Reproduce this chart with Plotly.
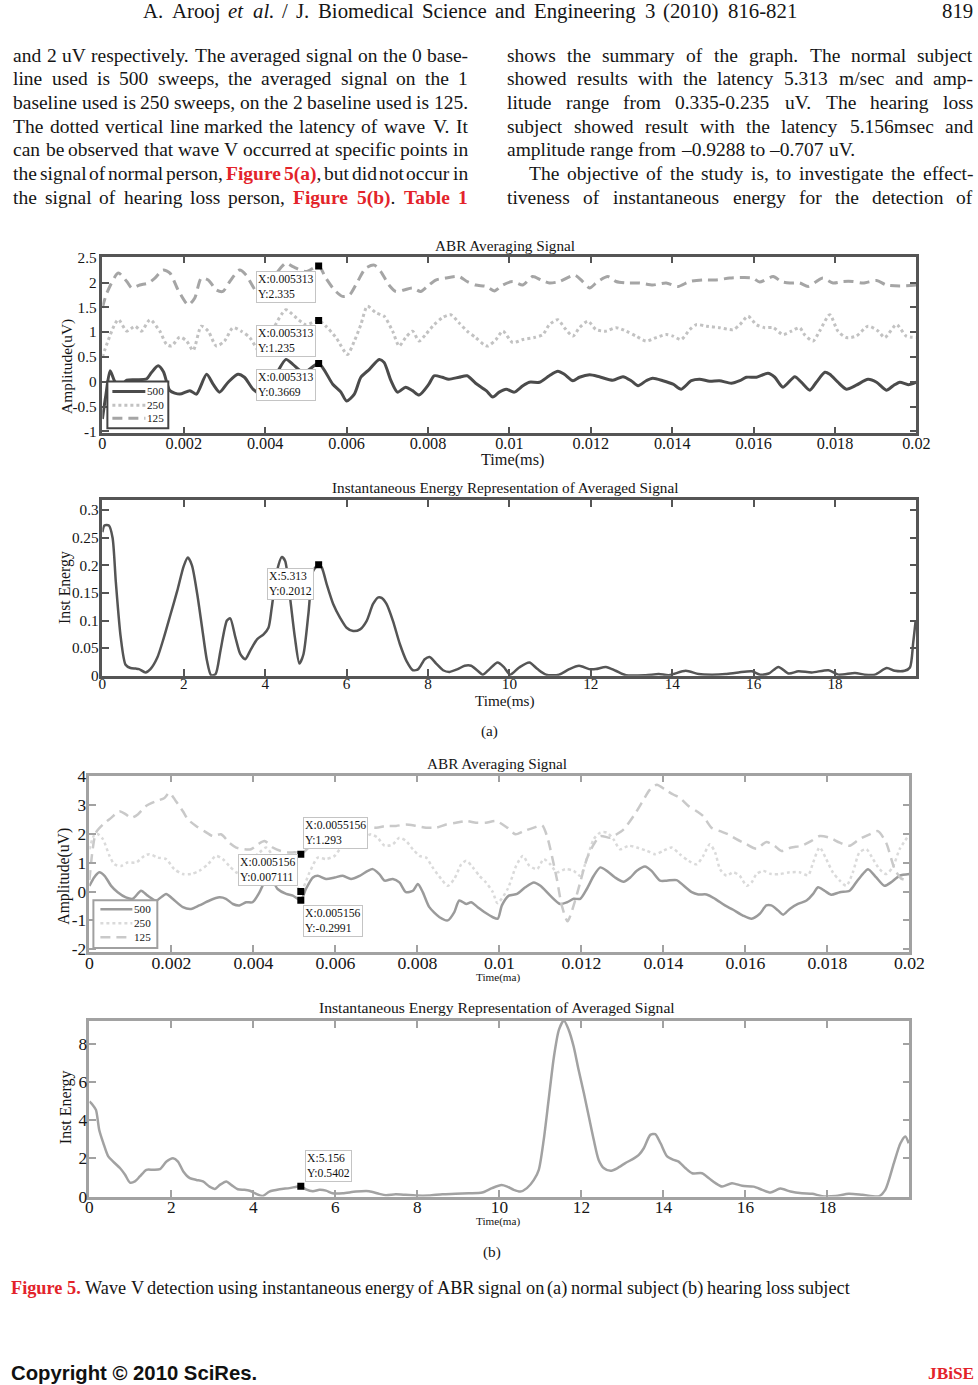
import plotly.graph_objects as go

# ---------------- data ----------------
series_names = ["500", "250", "125"]

# (a) normal subject, ABR averaging signal: (time [s], amplitude [uV])
a_500 = [(0, -0.75), (0.00008, -0.3), (0.00019, 0.22), (0.00031, 0.0), (0.00045, -0.08), (0.0006, 0.03),
         (0.00084, 0.04), (0.00109, 0.06), (0.0012, 0.18), (0.00137, 0.32), (0.0015, 0.2), (0.00166, -0.18),
         (0.0019, -0.25), (0.00215, -0.18), (0.00231, -0.25), (0.00256, 0.15), (0.00272, -0.05), (0.00288, -0.21),
         (0.00309, -0.01), (0.00333, 0.15), (0.00349, 0.09), (0.0037, -0.15), (0.0039, -0.25), (0.00407, -0.11),
         (0.00427, 0.15), (0.00451, 0.45), (0.00468, 0.35), (0.00495, 0.18), (0.005313, 0.3669), (0.00566, -0.05),
         (0.00586, -0.21), (0.006, -0.39), (0.00619, -0.25), (0.00635, 0.09), (0.00656, 0.25), (0.0068, 0.45),
         (0.00692, 0.39), (0.00709, 0.02), (0.00725, -0.21), (0.00745, -0.11), (0.00762, -0.18), (0.00778, -0.27),
         (0.00802, -0.05), (0.00815, 0.12), (0.00835, 0.09), (0.00851, 0.05), (0.00876, 0.09), (0.00896, 0.12),
         (0.00917, -0.03), (0.00943, -0.18), (0.00959, -0.31), (0.00975, -0.21), (0.00992, -0.15), (0.01012, -0.21),
         (0.01033, -0.08), (0.01049, -0.01), (0.01074, -0.01), (0.01098, 0.12), (0.01119, 0.21), (0.01135, 0.15),
         (0.01156, 0.02), (0.01172, 0.09), (0.01197, 0.14), (0.01221, 0.10), (0.01254, 0.03), (0.01279, 0.10),
         (0.01299, 0.02), (0.01316, -0.08), (0.01336, 0.02), (0.01352, 0.07), (0.01377, 0.02), (0.01402, -0.05),
         (0.01422, -0.15), (0.01447, 0.02), (0.01467, 0.05), (0.01492, 0.01), (0.01516, 0.02), (0.01545, -0.03),
         (0.01566, 0.02), (0.01582, 0.09), (0.01607, 0.09), (0.01635, 0.17), (0.01652, 0.09), (0.01672, -0.11),
         (0.01701, 0.10), (0.01717, -0.01), (0.01738, -0.17), (0.01754, -0.01), (0.01775, 0.19), (0.01787, 0.15),
         (0.01807, -0.01), (0.01828, -0.15), (0.01852, -0.07), (0.01881, 0.05), (0.01902, -0.01), (0.01926, -0.17),
         (0.01943, -0.08), (0.01959, -0.01), (0.0198, -0.06), (0.02, -0.01)]
a_250 = [(0, 0.5), (0.00039, 1.25), (0.0006, 1.02), (0.0008, 1.12), (0.00096, 1.02), (0.00117, 1.25), (0.00141, 1.02),
         (0.00158, 0.75), (0.0017, 0.72), (0.0019, 0.9), (0.00207, 0.82), (0.00223, 0.63), (0.00243, 1.12), (0.0026, 1.02),
         (0.0028, 0.72), (0.003, 0.82), (0.00321, 1.09), (0.00341, 1.02), (0.00362, 0.89), (0.00386, 0.59), (0.00398, 0.55),
         (0.00419, 1.05), (0.00451, 1.45), (0.00472, 1.32), (0.005, 1.15), (0.005313, 1.235), (0.00549, 1.12),
         (0.00574, 0.89), (0.00602, 0.55), (0.00619, 0.82), (0.00635, 1.15), (0.00651, 1.52), (0.00672, 1.39),
         (0.00692, 1.32), (0.00713, 1.02), (0.00729, 0.72), (0.00745, 0.89), (0.00762, 1.02), (0.00778, 0.82),
         (0.00794, 0.95), (0.00815, 1.15), (0.00835, 1.29), (0.00856, 1.35), (0.00876, 1.19), (0.00896, 1.02),
         (0.00917, 0.89), (0.00937, 0.75), (0.00947, 0.72), (0.00967, 0.85), (0.00984, 1.02), (0.01008, 0.79),
         (0.01033, 0.85), (0.01061, 0.89), (0.01082, 0.95), (0.01098, 1.15), (0.01119, 1.25), (0.01135, 1.09),
         (0.01156, 0.92), (0.01172, 1.09), (0.01193, 1.22), (0.01213, 1.05), (0.01238, 1.02), (0.01262, 1.09),
         (0.01287, 1.02), (0.01311, 0.92), (0.01336, 0.82), (0.01361, 0.89), (0.01385, 0.95), (0.01402, 0.92),
         (0.01422, 0.85), (0.01443, 1.05), (0.01459, 1.15), (0.01484, 1.12), (0.01516, 1.09), (0.01549, 1.05),
         (0.01566, 1.15), (0.01586, 1.32), (0.01607, 1.15), (0.01627, 1.09), (0.01648, 1.09), (0.01672, 0.95),
         (0.01693, 1.02), (0.01713, 1.09), (0.01725, 0.95), (0.01746, 0.82), (0.01762, 1.02), (0.01787, 1.35),
         (0.01807, 1.02), (0.01828, 0.89), (0.01852, 0.92), (0.01881, 1.12), (0.01906, 1.02), (0.01922, 0.89),
         (0.01951, 1.15), (0.01975, 0.92), (0.02, 0.89)]
a_125 = [(0, 1.49), (0.00011, 1.79), (0.00039, 2.19), (0.0006, 2.02), (0.00072, 1.89), (0.00092, 1.95), (0.00113, 1.99),
         (0.00129, 2.09), (0.00149, 2.25), (0.00166, 2.19), (0.00186, 1.85), (0.00211, 1.55), (0.00227, 1.69),
         (0.00243, 2.09), (0.0026, 2.05), (0.0028, 1.85), (0.00296, 1.82), (0.00313, 2.02), (0.00337, 2.25),
         (0.00353, 2.15), (0.00378, 1.82), (0.00394, 1.75), (0.0042, 2.1), (0.00451, 2.39), (0.00468, 2.32),
         (0.005, 2.22), (0.005313, 2.335), (0.00549, 2.09), (0.0057, 1.85), (0.0059, 1.72), (0.00607, 1.75),
         (0.00627, 2.02), (0.00647, 2.29), (0.00668, 2.35), (0.00684, 2.22), (0.00704, 1.95), (0.00721, 1.82),
         (0.00741, 1.85), (0.00762, 1.89), (0.00782, 1.82), (0.00798, 1.92), (0.00819, 2.05), (0.00843, 2.09),
         (0.00876, 2.12), (0.00896, 2.02), (0.00917, 1.95), (0.00943, 1.92), (0.00963, 1.83), (0.00984, 1.95),
         (0.01008, 2.02), (0.01033, 1.95), (0.01057, 2.12), (0.01078, 2.05), (0.01098, 1.99), (0.01123, 2.02),
         (0.0116, 2.15), (0.0118, 2.02), (0.01197, 1.89), (0.01217, 2.02), (0.01242, 2.12), (0.01262, 2.02),
         (0.01287, 1.99), (0.0132, 1.99), (0.01352, 1.95), (0.01385, 1.99), (0.01414, 1.92), (0.01443, 2.02),
         (0.01475, 2.05), (0.01508, 2.05), (0.01541, 2.09), (0.01574, 2.1), (0.01598, 2.09), (0.01615, 2.01),
         (0.01648, 2.12), (0.01668, 2.02), (0.01689, 1.99), (0.01713, 1.99), (0.01734, 1.92), (0.01754, 2.02),
         (0.0177, 2.09), (0.01795, 1.99), (0.0182, 2.02), (0.01844, 2.02), (0.01869, 1.99), (0.01902, 2.04),
         (0.01926, 1.95), (0.01959, 1.93), (0.02, 1.95)]

# (a) instantaneous energy: (time [ms], energy)
a_energy = [(0, 0.26), (0.05, 0.272), (0.16, 0.272), (0.25, 0.25), (0.33, 0.17), (0.45, 0.07), (0.57, 0.02),
            (0.69, 0.014), (0.82, 0.013), (0.9, 0.012), (1.06, 0.006), (1.18, 0.012), (1.35, 0.033), (1.51, 0.069),
            (1.67, 0.11), (1.84, 0.154), (2.0, 0.199), (2.1, 0.214), (2.2, 0.2), (2.33, 0.148), (2.45, 0.087),
            (2.57, 0.027), (2.67, 0.001), (2.78, 0.003), (2.9, 0.045), (3.06, 0.1), (3.14, 0.104), (3.27, 0.069),
            (3.39, 0.039), (3.51, 0.03), (3.63, 0.045), (3.8, 0.066), (3.96, 0.075), (4.08, 0.087), (4.16, 0.123),
            (4.29, 0.19), (4.41, 0.215), (4.49, 0.208), (4.61, 0.142), (4.73, 0.069), (4.84, 0.022), (4.94, 0.039),
            (5.06, 0.111), (5.18, 0.19), (5.313, 0.2012), (5.39, 0.196), (5.51, 0.166), (5.67, 0.13), (5.84, 0.105),
            (6.0, 0.087), (6.16, 0.081), (6.33, 0.084), (6.49, 0.099), (6.65, 0.13), (6.78, 0.142), (6.86, 0.141),
            (6.98, 0.13), (7.14, 0.099), (7.31, 0.057), (7.47, 0.027), (7.63, 0.01), (7.76, 0.012), (7.92, 0.03),
            (8.04, 0.034), (8.2, 0.022), (8.37, 0.01), (8.53, 0.007), (8.73, 0.012), (8.9, 0.018), (9.06, 0.018),
            (9.22, 0.009), (9.35, 0.002), (9.51, 0.012), (9.71, 0.024), (9.86, 0.016), (10.02, 0.002), (10.24, 0.015),
            (10.49, 0.024), (10.69, 0.012), (10.9, 0.002), (11.22, 0.002), (11.47, 0.012), (11.71, 0.018),
            (11.96, 0.012), (12.12, 0.012), (12.37, 0.016), (12.61, 0.009), (12.86, 0.001), (13.35, 0.001),
            (13.67, 0.003), (13.92, 0.001), (14.33, 0.009), (14.65, 0.003), (14.98, 0.002), (15.31, 0.003),
            (15.63, 0.006), (15.96, 0.008), (16.16, 0.002), (16.37, 0.004), (16.61, 0.016), (16.86, 0.004),
            (17.1, 0.008), (17.43, 0.006), (17.84, 0.01), (18.08, 0.002), (18.49, 0.005), (18.73, 0.002),
            (18.98, 0.002), (19.27, 0.014), (19.47, 0.009), (19.71, 0.009), (19.84, 0.015), (19.92, 0.06), (19.98, 0.1)]

# (b) hearing loss subject, ABR averaging signal
b_500 = [(0, 0.2), (0.00012, 0.5), (0.00024, 0.67), (0.00037, 0.55), (0.00053, 0.2), (0.00069, -0.02), (0.00089, -0.2),
         (0.00106, -0.25), (0.00126, 0.03), (0.00142, -0.14), (0.00163, -0.31), (0.00187, -0.08), (0.00203, -0.25),
         (0.00228, -0.54), (0.00248, -0.6), (0.00268, -0.48), (0.00293, -0.31), (0.00317, -0.2), (0.00333, -0.25),
         (0.0035, -0.43), (0.00366, -0.48), (0.00382, -0.37), (0.00398, -0.37), (0.00415, -0.02), (0.00427, 0.32),
         (0.00443, 0.44), (0.00459, 0.09), (0.0048, -0.08), (0.00496, -0.14), (0.005156, -0.2991), (0.00528, 0.09),
         (0.00545, 0.49), (0.00557, 0.55), (0.00577, 0.44), (0.00598, 0.49), (0.00618, 0.55), (0.00638, 0.44),
         (0.00659, 0.55), (0.00679, 0.72), (0.00691, 0.78), (0.00707, 0.61), (0.0072, 0.38), (0.0074, 0.44),
         (0.00756, 0.32), (0.00772, -0.02), (0.00789, 0.03), (0.00801, 0.26), (0.00813, -0.02), (0.00829, -0.54),
         (0.00854, -0.89), (0.00874, -1.0), (0.0089, -0.71), (0.00902, -0.31), (0.00919, -0.43), (0.00931, -0.37),
         (0.00947, -0.54), (0.00963, -0.71), (0.00984, -0.89), (0.00996, -0.94), (0.01006, -0.48), (0.01023, -0.14),
         (0.01043, -0.08), (0.01063, 0.15), (0.01084, 0.32), (0.011, 0.2), (0.01124, -0.14), (0.01148, -0.43),
         (0.01165, -0.37), (0.01181, -0.25), (0.01197, -0.25), (0.01213, 0.09), (0.0123, 0.55), (0.01246, 0.84),
         (0.01262, 0.72), (0.01282, 0.49), (0.01303, 0.34), (0.01319, 0.49), (0.01335, 0.72), (0.01355, 0.87),
         (0.01371, 0.72), (0.01392, 0.38), (0.01408, 0.38), (0.01432, 0.40), (0.01449, 0.21), (0.01469, -0.02),
         (0.01485, -0.1), (0.01505, -0.1), (0.01526, -0.25), (0.0155, -0.48), (0.0157, -0.63), (0.01594, -0.83),
         (0.01615, -0.94), (0.01635, -0.77), (0.01651, -0.48), (0.01663, -0.48), (0.0168, -0.66), (0.01692, -0.8),
         (0.01708, -0.6), (0.01728, -0.43), (0.01749, -0.31), (0.01765, -0.08), (0.01777, 0.15), (0.01793, 0.03),
         (0.01809, -0.11), (0.0183, -0.02), (0.01854, 0.03), (0.0187, 0.32), (0.01886, 0.61), (0.01899, 0.78),
         (0.01919, 0.49), (0.01939, 0.2), (0.01955, 0.32), (0.01976, 0.55), (0.02, 0.61)]
b_250 = [(0, 1.47), (0.00012, 1.97), (0.0002, 2.0), (0.00033, 1.82), (0.00049, 1.24), (0.00061, 0.95), (0.00077, 0.89),
         (0.00093, 1.01), (0.00114, 1.01), (0.00134, 1.24), (0.00146, 1.3), (0.00167, 1.18), (0.00187, 1.13),
         (0.00207, 0.78), (0.00228, 0.61), (0.00248, 0.61), (0.00268, 0.72), (0.00289, 0.95), (0.00309, 1.24),
         (0.00325, 1.13), (0.00341, 0.89), (0.00358, 0.67), (0.00374, 0.61), (0.00398, 1.13), (0.00415, 1.36),
         (0.00431, 1.53), (0.00447, 1.24), (0.00463, 0.78), (0.0048, 0.67), (0.00496, 0.49), (0.005156, 0.0071),
         (0.00537, 0.67), (0.00557, 1.18), (0.00577, 1.13), (0.00598, 1.24), (0.00614, 1.53), (0.0063, 1.64),
         (0.00646, 1.76), (0.00667, 1.87), (0.00687, 1.99), (0.00703, 1.87), (0.0072, 1.59), (0.0074, 1.64),
         (0.00756, 1.87), (0.00772, 1.76), (0.00789, 1.47), (0.00805, 1.24), (0.00821, 1.18), (0.00837, 0.84),
         (0.00858, 0.44), (0.00874, 0.2), (0.0089, 0.44), (0.00907, 0.95), (0.00919, 1.07), (0.00935, 0.84),
         (0.00951, 0.55), (0.00967, 0.32), (0.00984, -0.02), (0.00995, -0.4), (0.0102, 0.09), (0.01041, 0.9),
         (0.01057, 1.24), (0.01073, 0.9), (0.01092, 0.78), (0.01108, 1.13), (0.01124, 0.95), (0.0114, 0.67),
         (0.01161, 0.78), (0.01181, 0.72), (0.01197, 0.55), (0.01213, 1.13), (0.0123, 1.82), (0.01246, 2.05),
         (0.01262, 2.05), (0.01278, 1.82), (0.01294, 1.47), (0.01315, 1.59), (0.01335, 1.53), (0.01359, 1.42),
         (0.0138, 1.3), (0.014, 1.42), (0.0142, 1.53), (0.0144, 1.3), (0.01461, 1.07), (0.01481, 0.95), (0.01497, 1.24),
         (0.01513, 1.64), (0.01526, 1.36), (0.01538, 0.78), (0.01554, 0.55), (0.0157, 0.67), (0.01586, 0.55),
         (0.01603, 0.2), (0.01615, 0.32), (0.01627, 0.61), (0.01643, 0.72), (0.01663, 0.61), (0.01684, 0.61),
         (0.01708, 0.67), (0.01732, 0.67), (0.01753, 0.57), (0.01765, 1.01), (0.01781, 1.53), (0.01797, 1.13),
         (0.01813, 0.67), (0.0183, 0.38), (0.01846, 0.2), (0.01862, 0.67), (0.01878, 1.36), (0.01895, 1.47),
         (0.01911, 1.13), (0.01927, 0.78), (0.01943, 0.61), (0.01959, 0.84), (0.01976, 1.47), (0.02, 1.99)]
b_125 = [(0, 0.4), (0.00008, 1.47), (0.00016, 2.05), (0.00033, 2.33), (0.00053, 2.56), (0.00073, 2.79), (0.00089, 2.68),
         (0.00102, 2.56), (0.00118, 2.68), (0.00138, 2.97), (0.00163, 3.14), (0.00183, 3.25), (0.00195, 3.43),
         (0.00211, 3.14), (0.00228, 2.79), (0.0024, 2.51), (0.0026, 2.28), (0.0028, 2.1), (0.00301, 1.93),
         (0.00321, 1.99), (0.00341, 1.7), (0.00358, 1.53), (0.00378, 1.47), (0.00394, 1.47), (0.00411, 1.64),
         (0.00427, 1.76), (0.00447, 1.53), (0.00467, 1.41), (0.00488, 1.36), (0.00504, 1.36), (0.005156, 1.293),
         (0.0054, 1.6), (0.0058, 2.0), (0.0062, 2.2), (0.0065, 2.28), (0.00675, 2.28), (0.00699, 2.22), (0.00724, 2.28),
         (0.00748, 2.28), (0.00772, 2.33), (0.00797, 2.28), (0.00821, 2.22), (0.00846, 2.22), (0.0087, 2.33),
         (0.00894, 2.39), (0.00919, 2.45), (0.00943, 2.39), (0.00967, 2.39), (0.00992, 2.45), (0.01019, 2.22),
         (0.01039, 1.99), (0.01059, 2.1), (0.01084, 2.22), (0.01104, 2.3), (0.01116, 1.93), (0.01128, 1.24),
         (0.0114, 0.44), (0.01152, -0.48), (0.01166, -1.03), (0.01181, -0.48), (0.01197, 0.32), (0.01213, 1.13),
         (0.0123, 1.64), (0.01246, 1.93), (0.0127, 1.87), (0.01286, 1.99), (0.01303, 2.16), (0.01327, 2.62),
         (0.01347, 3.08), (0.01367, 3.54), (0.01384, 3.71), (0.01404, 3.54), (0.01424, 3.37), (0.0144, 3.25),
         (0.01461, 2.97), (0.01481, 2.79), (0.01497, 2.62), (0.01517, 2.22), (0.01538, 2.1), (0.01558, 1.99),
         (0.01578, 1.82), (0.01603, 1.64), (0.01627, 1.49), (0.01651, 1.72), (0.01671, 1.59), (0.01688, 1.41),
         (0.01712, 1.53), (0.01736, 1.59), (0.01761, 1.76), (0.01781, 1.93), (0.01805, 1.87), (0.0183, 1.7),
         (0.01854, 1.59), (0.01878, 1.82), (0.01903, 1.99), (0.01923, 2.1), (0.01943, 1.7), (0.01964, 0.78),
         (0.0198, 0.45), (0.02, 0.38)]

# (b) instantaneous energy
b_energy = [(0, 4.98), (0.08, 4.8), (0.16, 4.54), (0.24, 3.49), (0.34, 2.8), (0.46, 2.1), (0.58, 1.83), (0.75, 1.48),
            (0.87, 1.14), (0.99, 0.73), (1.11, 0.79), (1.23, 1.05), (1.39, 1.4), (1.56, 1.4), (1.72, 1.43),
            (1.88, 1.83), (2.04, 2.0), (2.16, 1.83), (2.29, 1.31), (2.45, 0.96), (2.61, 0.87), (2.77, 0.79),
            (2.93, 0.52), (3.06, 0.4), (3.18, 0.61), (3.34, 0.79), (3.46, 0.61), (3.62, 0.38), (3.78, 0.35),
            (3.91, 0.3), (4.07, 0.14), (4.23, 0.03), (4.39, 0.26), (4.64, 0.38), (4.88, 0.44), (5.156, 0.5402),
            (5.28, 0.38), (5.45, 0.28), (5.61, 0.35), (5.77, 0.31), (5.93, 0.17), (6.18, 0.17), (6.5, 0.26),
            (6.82, 0.28), (7.07, 0.14), (7.23, 0.07), (7.47, 0.12), (7.71, 0.09), (7.96, 0.05), (8.28, 0.05),
            (8.61, 0.12), (8.93, 0.14), (9.25, 0.17), (9.58, 0.21), (9.82, 0.44), (10.05, 0.6), (10.19, 0.52),
            (10.35, 0.35), (10.51, 0.26), (10.67, 0.44), (10.84, 0.87), (10.96, 1.4), (11.08, 2.97), (11.2, 5.07),
            (11.33, 7.34), (11.45, 8.73), (11.57, 9.22), (11.69, 8.73), (11.81, 7.86), (11.93, 6.64), (12.06, 5.41),
            (12.18, 4.19), (12.3, 2.97), (12.42, 1.92), (12.55, 1.48), (12.71, 1.35), (12.87, 1.48), (13.07, 1.75),
            (13.28, 2.0), (13.4, 2.18), (13.52, 2.53), (13.68, 3.23), (13.8, 3.27), (13.93, 2.79), (14.09, 2.1),
            (14.25, 1.92), (14.37, 1.83), (14.54, 1.48), (14.7, 1.22), (14.94, 1.22), (15.11, 0.96), (15.27, 0.7),
            (15.43, 0.52), (15.67, 0.7), (15.92, 0.56), (16.2, 0.52), (16.41, 0.35), (16.61, 0.21), (16.85, 0.42),
            (17.1, 0.26), (17.38, 0.17), (17.63, 0.14), (17.87, 0.02), (18.2, 0.03), (18.52, 0.14), (18.85, 0.09),
            (19.25, 0.01), (19.41, 0.35), (19.62, 1.75), (19.78, 2.79), (19.9, 3.14), (19.98, 2.79)]

# data tips
a_tip_x = [0.005313, 0.005313, 0.005313]
a_tip_y = [2.335, 1.235, 0.3669]
a_tip_text = ["X:0.005313<br>Y:2.335", "X:0.005313<br>Y:1.235", "X:0.005313<br>Y:0.3669"]
ae_tip_x, ae_tip_y, ae_tip_text = [5.313], [0.2012], ["X:5.313<br>Y:0.2012"]
b_tip_x = [0.005156, 0.005156, 0.005156]
b_tip_y = [1.293, 0.007111, -0.2991]
b_tip_text = ["X:0.0055156<br>Y:1.293", "X:0.005156<br>Y:0.007111", "X:0.005156<br>Y:-0.2991"]
be_tip_x, be_tip_y, be_tip_text = [5.156], [0.5402], ["X:5.156<br>Y:0.5402"]

# ticks
t_ticks = [0, 0.002, 0.004, 0.006, 0.008, 0.01, 0.012, 0.014, 0.016, 0.018, 0.02]
t_labels = ["0", "0.002", "0.004", "0.006", "0.008", "0.01", "0.012", "0.014", "0.016", "0.018", "0.02"]
ms_ticks = [0, 2, 4, 6, 8, 10, 12, 14, 16, 18]
ms_labels = ["0", "2", "4", "6", "8", "10", "12", "14", "16", "18"]
a_amp_ticks = [-1, -0.5, 0, 0.5, 1, 1.5, 2, 2.5]
a_amp_labels = ["-1", "-0.5", "0", "0.5", "1", "1.5", "2", "2.5"]
a_en_ticks = [0, 0.05, 0.1, 0.15, 0.2, 0.25, 0.3]
a_en_labels = ["0", "0.05", "0.1", "0.15", "0.2", "0.25", "0.3"]
b_amp_ticks = [-2, -1, 0, 1, 2, 3, 4]
b_amp_labels = ["-2", "-1", "0", "1", "2", "3", "4"]
b_en_ticks = [0, 2, 4, 6, 8]
b_en_labels = ["0", "2", "4", "6", "8"]

# ---------------- page text ----------------
left_lines = [
    "and 2 uV respectively. The averaged signal on the 0 base-",
    "line used is 500 sweeps, the averaged signal on the 1",
    "baseline used is 250 sweeps, on the 2 baseline used is 125.",
    "The dotted vertical line marked the latency of wave V. It",
    "can be observed that wave V occurred at specific points in",
    "the signal of normal person, *Figure* *5(a)*, but did not occur in",
    "the signal of hearing loss person, *Figure* *5(b)*. *Table* *1*",
]
right_lines = [
    "shows the summary of the graph. The normal subject",
    "showed results with the latency 5.313 m/sec and amp-",
    "litude range from 0.335-0.235 uV. The hearing loss",
    "subject showed result with the latency 5.156msec and",
    "amplitude range from –0.9288 to –0.707 uV.",
    "The objective of the study is, to investigate the effect-",
    "tiveness of instantaneous energy for the detection of",
]
header_line = "A. Arooj _et_ _al._ / J. Biomedical Science and Engineering 3 (2010) 816-821"
caption_line = "*Figure* *5.* Wave V detection using instantaneous energy of ABR signal on (a) normal subject (b) hearing loss subject"

# ---------------- layout helpers ----------------
# Positions below are given in target-picture pixels; the photographed page was
# found to map page pixel P to picture pixel OX + SX*P (and OY + SY*P), so the
# figure is laid out in page pixels through the inverse of that mapping.
SX, OX = 0.981, 3.5
SY, OY = 0.9894, 5.7
FS = 0.985            # average shrink, used for font sizes
W, H = 994, 1395
SERIF = "Liberation Serif"
SANS = "Liberation Sans"
RED = "#e3232a"
TXT = "#151515"
WFAC = 1.02


def PX(r):
    return (r - OX) / SX


def PY(r):
    return (r - OY) / SY


def X(r):
    return PX(r) / W


def Y(r):
    return 1 - PY(r) / H


def F(s):
    return s / FS


REG_W = {' ': 250, '(': 333, ')': 333, ',': 250, '-': 333, '.': 250, '/': 278, ':': 278, '–': 500, '©': 760}
for _d in "0123456789":
    REG_W[_d] = 500
REG_W.update(dict(A=722, B=667, C=667, D=722, E=611, F=556, G=722, H=722, I=333, J=389, K=722, L=611, M=889,
                  N=722, O=722, P=556, Q=722, R=667, S=556, T=611, U=722, V=722, W=944, X=722, Y=722, Z=611))
REG_W.update(dict(a=444, b=500, c=444, d=500, e=444, f=333, g=500, h=500, i=278, j=278, k=500, l=278, m=778,
                  n=500, o=500, p=500, q=500, r=333, s=389, t=278, u=500, v=500, w=722, x=500, y=500, z=444))
BOLD_W = dict(REG_W)
BOLD_W.update(dict(F=611, T=667, a=500, b=556, u=556, r=444, e=444, g=500, i=278, l=278))
ITAL_W = dict(REG_W)
ITAL_W.update(dict(a=500))


def parse(token):
    segs, style, buf = [], None, ""
    for ch in token:
        if ch in "*_":
            if buf:
                segs.append((buf, style))
            buf = ""
            mark = 'b' if ch == '*' else 'i'
            style = None if style == mark else mark
        else:
            buf += ch
    if buf:
        segs.append((buf, style))
    return segs


def seg_html(segs):
    out = ""
    for t, s in segs:
        if s == 'b':
            out += "<b><span style='color:%s'>%s</span></b>" % (RED, t)
        elif s == 'i':
            out += "<i>%s</i>" % t
        else:
            out += t
    return out


def seg_w(segs, size):
    # width in target-picture pixels for a font of `size` target pixels
    tot = 0
    for t, s in segs:
        tab = BOLD_W if s == 'b' else (ITAL_W if s == 'i' else REG_W)
        tot += sum(tab.get(c, 500) for c in t)
    return tot * size / 1000.0 * WFAC


annotations = []
shapes = []


def place_line(line, xl, xr, yc, size, justify=True):
    words = line.split(" ")
    segs = [parse(w) for w in words]
    widths = [seg_w(s, size) for s in segs]
    n = len(words)
    gap = (xr - xl - sum(widths)) / (n - 1) if (justify and n > 1) else 0.25 * size
    x = xl
    for i, (sg, w) in enumerate(zip(segs, widths)):
        if justify and i == n - 1 and n > 1:
            ax, anc = xr, "right"
        elif i == 0:
            ax, anc = xl, "left"
        else:
            ax, anc = x + w / 2, "center"
        annotations.append(dict(text=seg_html(sg), x=X(ax), y=Y(yc), xref="paper", yref="paper",
                                xanchor=anc, yanchor="middle", showarrow=False, borderpad=0, borderwidth=0,
                                font=dict(family=SERIF, size=F(size), color=TXT)))
        x += w + gap


def label(text, px, py, size, angle=0, family=SERIF, color=TXT, xanchor="center"):
    annotations.append(dict(text=text, x=X(px), y=Y(py), xref="paper", yref="paper", showarrow=False,
                            xanchor=xanchor, yanchor="middle", textangle=angle, borderpad=0, borderwidth=0,
                            font=dict(family=family, size=F(size), color=color)))


# body text
line_y = [53, 76, 100, 124, 148, 172, 196]
BODY = 19.2
for i, ln in enumerate(left_lines):
    place_line(ln, 13, 468, line_y[i], BODY)
for i, ln in enumerate(right_lines):
    if i == 4:
        place_line(ln, 507, 974, line_y[i], BODY, justify=False)
    elif i == 5:
        place_line(ln, 529, 974, line_y[i], BODY)
    else:
        place_line(ln, 507, 974, line_y[i], BODY)

place_line(header_line, 143, 797, 9, 20.5)
label("819", 974, 9, 20.5, xanchor="right")
place_line(caption_line, 11, 850, 1289, 18)
label("(a)", 490, 730, 15)
label("(b)", 492, 1253, 15)
label("<b>Copyright © 2010 SciRes.</b>", 11, 1374, 20, family=SANS, color="#111", xanchor="left")
label("<b>JBiSE</b>", 975, 1374, 17, color=RED, xanchor="right")

# plot titles and axis labels
label("ABR Averaging Signal", 505, 244, 15)
label("Instantaneous Energy Representation of Averaged Signal", 505, 486.5, 15)
label("ABR Averaging Signal", 497, 762.5, 15)
label("Instantaneous Energy Representation of Averaged Signal", 497, 1008, 15.4)
label("Time(ms)", 513, 459, 16)
label("Time(ms)", 505, 700, 15)
label("Time(ma)", 498, 977, 11)
label("Time(ma)", 498, 1222, 11)
label("Amplitude(uV)", 67, 365, 15.2, angle=-90)
label("Inst Energy", 64.5, 586, 15.5, angle=-90)
label("Amplitude(uV)", 64, 876, 15.5, angle=-90)
label("Inst Energy", 65, 1107, 15.7, angle=-90)

# ---------------- figure ----------------
fig = go.Figure()

A_FRAME, B_FRAME = "#555555", "#a2a2a2"
a_styles = [dict(color="#4b4b4b", width=3, dash="solid"),
            dict(color="#c2c2c2", width=3, dash="dot"),
            dict(color="#a5a5a5", width=3, dash="10px,6px")]
b_styles = [dict(color="#9b9b9b", width=2.5, dash="solid"),
            dict(color="#dadada", width=2.5, dash="dot"),
            dict(color="#c9c9c9", width=2.5, dash="10px,6px")]

for name, ser, st in zip(series_names, [a_500, a_250, a_125], a_styles):
    fig.add_trace(go.Scatter(x=[p[0] for p in ser], y=[p[1] for p in ser], mode="lines", name=name,
                             line=dict(shape="spline", smoothing=0.7, **st), xaxis="x", yaxis="y"))
fig.add_trace(go.Scatter(x=a_tip_x, y=a_tip_y, mode="markers", xaxis="x", yaxis="y",
                         marker=dict(symbol="square", size=7, color="black")))

fig.add_trace(go.Scatter(x=[p[0] for p in a_energy], y=[p[1] for p in a_energy], mode="lines",
                         line=dict(shape="spline", smoothing=0.7, color="#555555", width=2.5),
                         xaxis="x2", yaxis="y2"))
fig.add_trace(go.Scatter(x=ae_tip_x, y=ae_tip_y, mode="markers", xaxis="x2", yaxis="y2",
                         marker=dict(symbol="square", size=7, color="black")))

for name, ser, st in zip(series_names, [b_500, b_250, b_125], b_styles):
    fig.add_trace(go.Scatter(x=[p[0] for p in ser], y=[p[1] for p in ser], mode="lines", name=name,
                             line=dict(shape="spline", smoothing=0.7, **st), xaxis="x3", yaxis="y3"))
fig.add_trace(go.Scatter(x=b_tip_x, y=b_tip_y, mode="markers", xaxis="x3", yaxis="y3",
                         marker=dict(symbol="square", size=7, color="black")))

fig.add_trace(go.Scatter(x=[p[0] for p in b_energy], y=[p[1] for p in b_energy], mode="lines",
                         line=dict(shape="spline", smoothing=0.7, color="#a2a2a2", width=2.5),
                         xaxis="x4", yaxis="y4"))
fig.add_trace(go.Scatter(x=be_tip_x, y=be_tip_y, mode="markers", xaxis="x4", yaxis="y4",
                         marker=dict(symbol="square", size=7, color="black")))


# compact MATLAB-style legends (boxes drawn above the curves)
def legend_box(x0, y0, x1, y1, border, styles, rows, sx0, sx1, tx):
    shapes.append(dict(type="rect", xref="paper", yref="paper", x0=X(x0), x1=X(x1), y0=Y(y1), y1=Y(y0),
                       line=dict(color=border, width=2), fillcolor="white", layer="above"))
    for name, st, ry in zip(series_names, styles, rows):
        shapes.append(dict(type="line", xref="paper", yref="paper", x0=X(sx0), x1=X(sx1), y0=Y(ry), y1=Y(ry),
                           line=dict(color=st["color"], width=st["width"], dash=st["dash"]), layer="above"))
        label(name, tx, ry, 11, xanchor="left")


legend_box(107, 380, 168, 427, "#444444", a_styles, [390, 404, 417], 112, 145, 147)
legend_box(93, 900, 157, 948, "#a0a0a0", b_styles, [909, 923, 937], 100, 132, 134)


def ax(color, dom, rng, tv, tt, fsize, anchor, standoff):
    return dict(domain=dom, range=rng, tickvals=tv, ticktext=tt, anchor=anchor, showline=True,
                linecolor=color, linewidth=2.5, mirror="ticks", ticks="inside", ticklen=7, tickwidth=2,
                tickcolor=color, showgrid=False, zeroline=False, fixedrange=True, ticklabelstandoff=standoff,
                tickfont=dict(family=SERIF, size=F(fsize), color=TXT))


fig.update_layout(
    width=W, height=H, autosize=False, margin=dict(l=0, r=0, t=0, b=0),
    paper_bgcolor="white", plot_bgcolor="white", showlegend=False,
    xaxis=ax(A_FRAME, [X(102), X(917)], [0, 0.02], t_ticks, t_labels, 16, "y", -7),
    yaxis=ax(A_FRAME, [Y(432), Y(255)], [-1.04, 2.52], a_amp_ticks, a_amp_labels, 15, "x", 0),
    xaxis2=ax(A_FRAME, [X(102), X(917)], [0, 20], ms_ticks, ms_labels, 15, "y2", -8),
    yaxis2=ax(A_FRAME, [Y(675), Y(499)], [0, 0.318], a_en_ticks, a_en_labels, 15, "x2", -2),
    xaxis3=ax(B_FRAME, [X(89), X(910)], [0, 0.02], t_ticks, t_labels, 17.5, "y3", -7),
    yaxis3=ax(B_FRAME, [Y(952), Y(775)], [-2.1, 4.03], b_amp_ticks, b_amp_labels, 17, "x3", -3),
    xaxis4=ax(B_FRAME, [X(89), X(910)], [0, 20], ms_ticks, ms_labels, 17, "y4", -7),
    yaxis4=ax(B_FRAME, [Y(1197), Y(1021)], [0, 9.2], b_en_ticks, b_en_labels, 17, "x4", -4),
)

tip_font = dict(family=SERIF, size=F(11.5), color="#111")
tip_box = dict(showarrow=False, bgcolor="white", bordercolor="#c4c4c4", borderwidth=1, borderpad=1,
               align="left", font=tip_font)
for i in range(3):
    annotations.append(dict(text=a_tip_text[i], x=a_tip_x[i], y=a_tip_y[i], xref="x", yref="y",
                            xanchor="right", yanchor="top", xshift=-3, yshift=-5, **tip_box))
annotations.append(dict(text=ae_tip_text[0], x=ae_tip_x[0], y=ae_tip_y[0], xref="x2", yref="y2",
                        xanchor="right", yanchor="top", xshift=-5, yshift=-3, **tip_box))
annotations.append(dict(text=b_tip_text[0], x=b_tip_x[0], y=b_tip_y[0], xref="x3", yref="y3",
                        xanchor="left", yanchor="bottom", xshift=2, yshift=5, **tip_box))
annotations.append(dict(text=b_tip_text[1], x=b_tip_x[1], y=b_tip_y[1], xref="x3", yref="y3",
                        xanchor="right", yanchor="bottom", xshift=-3, yshift=5, **tip_box))
annotations.append(dict(text=b_tip_text[2], x=b_tip_x[2], y=b_tip_y[2], xref="x3", yref="y3",
                        xanchor="left", yanchor="top", xshift=2, yshift=-5, **tip_box))
annotations.append(dict(text=be_tip_text[0], x=be_tip_x[0], y=be_tip_y[0], xref="x4", yref="y4",
                        xanchor="left", yanchor="bottom", xshift=4, yshift=4, **tip_box))

fig.update_layout(annotations=annotations, shapes=shapes)

fig.write_html("out.html", config={"displayModeBar": False},
               post_script="document.body.style.margin='0';")
